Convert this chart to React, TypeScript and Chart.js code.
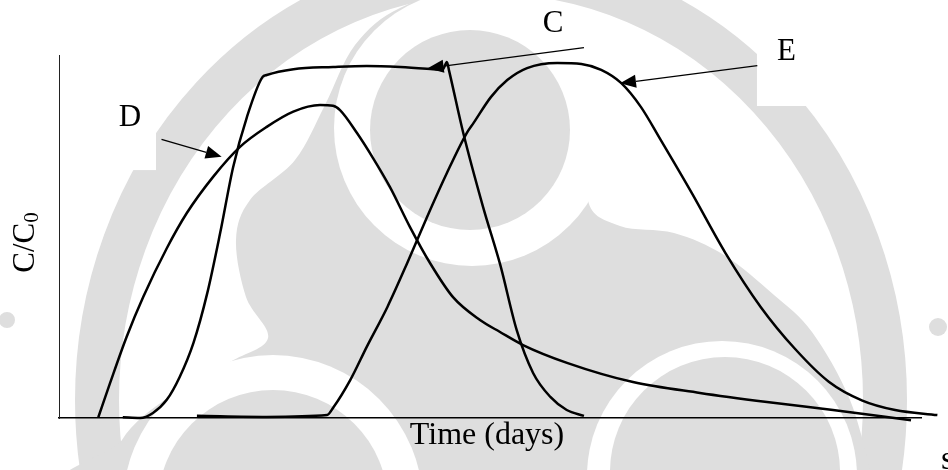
import React, { useEffect, useRef } from "react";
import { Chart, registerables } from "chart.js";

Chart.register(...registerables);

// Breakthrough curves: time in days against relative concentration C/C0
const timeC = [7.4, 9.4, 10.9, 12.5, 14.0, 15.6, 17.2, 18.7, 20.2, 21.8, 23.6, 24.1, 27.2, 31.8, 35.7, 39.6, 43.4, 44.5, 45.0, 45.25, 46.9, 49.2, 51.2, 53.1, 55.0, 57.0, 58.9, 60.9];
const ratioC = [0.002, 0.0, 0.014, 0.05, 0.113, 0.207, 0.344, 0.51, 0.691, 0.829, 0.939, 0.945, 0.961, 0.967, 0.97, 0.967, 0.961, 0.959, 0.981, 0.957, 0.785, 0.581, 0.421, 0.242, 0.124, 0.058, 0.022, 0.006];

const timeD = [4.56, 5.92, 7.85, 9.78, 12.49, 14.81, 17.9, 21.0, 24.1, 27.18, 30.28, 31.79, 32.6, 34.57, 36.43, 38.4, 40.72, 43.04, 45.71, 48.84, 51.16, 53.83, 58.93, 66.59, 74.36, 82.13, 89.79, 98.84];
const ratioD = [0.002, 0.096, 0.224, 0.334, 0.467, 0.564, 0.665, 0.747, 0.802, 0.844, 0.862, 0.86, 0.848, 0.785, 0.716, 0.636, 0.526, 0.427, 0.333, 0.27, 0.237, 0.201, 0.152, 0.099, 0.069, 0.044, 0.022, -0.006];

const timeE = [16.0, 24.1, 31.1, 31.8, 33.8, 35.7, 38.1, 40.4, 42.7, 45.0, 47.3, 48.1, 50.1, 52.0, 54.3, 57.8, 60.6, 62.9, 65.2, 67.5, 69.8, 73.4, 77.3, 81.4, 85.4, 89.3, 93.2, 97.0, 101.9];
const ratioE = [0.006, 0.003, 0.008, 0.028, 0.105, 0.196, 0.306, 0.427, 0.554, 0.675, 0.785, 0.813, 0.884, 0.931, 0.964, 0.978, 0.975, 0.959, 0.923, 0.857, 0.766, 0.62, 0.455, 0.306, 0.19, 0.1, 0.048, 0.022, 0.008];

const seriesNames = ["C", "D", "E"];
const xTitle = "Time (days)";
const yTitleMain = "C/C";
const yTitleSub = "0";
const cornerMark = "s";

const SERIF = "'Liberation Serif', 'Times New Roman', serif";
const INK = "#000000";
const WASH = "#dedede";

type Pt = [number, number];

// closed Catmull-Rom outline
function smoothClosedPath(ctx: CanvasRenderingContext2D, pts: Pt[]) {
  const n = pts.length;
  ctx.moveTo(pts[0][0], pts[0][1]);
  for (let i = 0; i < n; i++) {
    const p0 = pts[(i - 1 + n) % n];
    const p1 = pts[i];
    const p2 = pts[(i + 1) % n];
    const p3 = pts[(i + 2) % n];
    ctx.bezierCurveTo(
      p1[0] + (p2[0] - p0[0]) / 6,
      p1[1] + (p2[1] - p0[1]) / 6,
      p2[0] - (p3[0] - p1[0]) / 6,
      p2[1] - (p3[1] - p1[1]) / 6,
      p2[0],
      p2[1]
    );
  }
  ctx.closePath();
}

// faint emblem printed behind the figure
const swirlOutline: Pt[] = [
  [400, 8], [470, -8], [560, 40], [600, 120], [588, 200], [620, 226], [674, 233],
  [724, 255], [774, 295], [812, 332], [850, 400], [872, 480], [872, 500], [110, 500],
  [122, 440], [170, 396], [230, 362], [268, 338], [246, 297], [236, 240], [250, 200],
  [295, 160], [325, 105], [355, 45],
];

const backdropPlugin = {
  id: "backdrop",
  beforeDraw(chart: Chart) {
    const { ctx, width, height } = chart;
    ctx.save();
    ctx.fillStyle = "#ffffff";
    ctx.fillRect(0, 0, width, height);

    ctx.strokeStyle = WASH;
    ctx.lineWidth = 44;
    ctx.beginPath();
    ctx.ellipse(491, 400, 394, 428, 0, 0, Math.PI * 2);
    ctx.stroke();

    ctx.fillStyle = WASH;
    ctx.beginPath();
    smoothClosedPath(ctx, swirlOutline);
    ctx.fill();

    const disc = (x: number, y: number, r: number, color: string) => {
      ctx.fillStyle = color;
      ctx.beginPath();
      ctx.arc(x, y, r, 0, Math.PI * 2);
      ctx.fill();
    };
    disc(472, 128, 138, "#ffffff");
    disc(273, 505, 150, "#ffffff");
    disc(722, 476, 135, "#ffffff");
    disc(470, 130, 100, WASH);
    disc(273, 505, 115, WASH);
    disc(725, 472, 115, WASH);
    disc(7, 320, 8, WASH);
    disc(938, 327, 9, WASH);
    ctx.restore();
  },
};

const toPx = (chart: Chart, x: number, y: number): Pt => [
  chart.scales.x.getPixelForValue(x),
  chart.scales.y.getPixelForValue(y),
];

function arrow(ctx: CanvasRenderingContext2D, from: Pt, to: Pt) {
  const ang = Math.atan2(to[1] - from[1], to[0] - from[0]);
  const len = 16;
  const half = 6.5;
  const bx = to[0] - len * Math.cos(ang);
  const by = to[1] - len * Math.sin(ang);
  ctx.beginPath();
  ctx.moveTo(from[0], from[1]);
  ctx.lineTo(bx, by);
  ctx.stroke();
  ctx.beginPath();
  ctx.moveTo(to[0], to[1]);
  ctx.lineTo(bx - half * Math.sin(ang), by + half * Math.cos(ang));
  ctx.lineTo(bx + half * Math.sin(ang), by - half * Math.cos(ang));
  ctx.closePath();
  ctx.fill();
}

const labelBoxPlugin = {
  id: "labelBoxes",
  beforeDatasetsDraw(chart: Chart) {
    const { ctx } = chart;
    ctx.save();
    ctx.fillStyle = "#ffffff";
    const boxes: [number, number, number, number][] = [
      [4.5, 0.876, 11.25, 0.683],
      [80.97, 1.041, 87.7, 0.8595],
    ];
    boxes.forEach(([x0, y0, x1, y1]) => {
      const a = toPx(chart, x0, y0);
      const b = toPx(chart, x1, y1);
      ctx.fillRect(a[0], a[1], b[0] - a[0], b[1] - a[1]);
    });
    ctx.restore();
  },
};

const notesPlugin = {
  id: "notes",
  afterDraw(chart: Chart) {
    const { ctx, chartArea } = chart;
    ctx.save();
    ctx.fillStyle = INK;
    ctx.strokeStyle = INK;
    ctx.lineWidth = 1.3;

    // curve labels with leader arrows
    const notes: { name: string; at: [number, number]; from: [number, number]; to: [number, number] }[] = [
      { name: seriesNames[0], at: [57.31, 1.062], from: [60.9, 1.0201], to: [42.77, 0.9634] },
      { name: seriesNames[1], at: [8.24, 0.8044], from: [11.89, 0.7678], to: [18.87, 0.7198] },
      { name: seriesNames[2], at: [84.4, 0.9862], from: [81.01, 0.9705], to: [65.08, 0.922] },
    ];
    ctx.font = `31px ${SERIF}`;
    ctx.textAlign = "center";
    ctx.textBaseline = "alphabetic";
    notes.forEach((n) => {
      const p = toPx(chart, n.at[0], n.at[1]);
      ctx.fillText(n.name, p[0], p[1]);
      arrow(ctx, toPx(chart, n.from[0], n.from[1]), toPx(chart, n.to[0], n.to[1]));
    });

    // axis titles
    ctx.font = `32px ${SERIF}`;
    ctx.fillText(xTitle, (chartArea.left + chartArea.right) / 2 - 3, chartArea.bottom + 26);

    ctx.save();
    ctx.translate(chartArea.left - 25, (chartArea.top + chartArea.bottom) / 2 + 6);
    ctx.rotate(-Math.PI / 2);
    ctx.textAlign = "left";
    ctx.font = `31px ${SERIF}`;
    const wMain = ctx.measureText(yTitleMain).width;
    ctx.font = `21px ${SERIF}`;
    const wSub = ctx.measureText(yTitleSub).width;
    const start = -(wMain + wSub) / 2;
    ctx.font = `31px ${SERIF}`;
    ctx.fillText(yTitleMain, start, 0);
    ctx.font = `21px ${SERIF}`;
    ctx.fillText(yTitleSub, start + wMain, 4);
    ctx.restore();

    ctx.textAlign = "left";
    ctx.font = `34px ${SERIF}`;
    ctx.fillText(cornerMark, 941, 469);
    ctx.restore();
  },
};

function toPoints(xs: number[], ys: number[]) {
  return xs.map((x, i) => ({ x, y: ys[i] }));
}

export default function App() {
  const canvasRef = useRef<HTMLCanvasElement | null>(null);

  useEffect(() => {
    const canvas = canvasRef.current;
    if (!canvas) return;
    const lineStyle = {
      borderColor: INK,
      borderWidth: 2.5,
      pointRadius: 0,
      fill: false,
      cubicInterpolationMode: "monotone" as const,
      clip: false as const,
    };
    const chart = new Chart(canvas, {
      type: "line",
      data: {
        datasets: [
          { label: seriesNames[0], data: toPoints(timeC, ratioC), ...lineStyle },
          { label: seriesNames[1], data: toPoints(timeD, ratioD), ...lineStyle },
          { label: seriesNames[2], data: toPoints(timeE, ratioE), ...lineStyle },
        ],
      },
      options: {
        responsive: false,
        animation: false,
        devicePixelRatio: 1,
        layout: { padding: { left: 59, right: 27, top: 55, bottom: 52 } },
        plugins: { legend: { display: false }, tooltip: { enabled: false } },
        events: [],
        scales: {
          x: {
            type: "linear",
            min: 0,
            max: 100,
            grid: { display: false, drawTicks: false },
            ticks: { display: false },
            border: { display: true, color: "#000000", width: 1.6 },
            afterFit: (s: any) => {
              s.height = 0;
            },
          },
          y: {
            type: "linear",
            min: 0,
            max: 1,
            grid: { display: false, drawTicks: false },
            ticks: { display: false },
            border: { display: true, color: "#222222", width: 1 },
            afterFit: (s: any) => {
              s.width = 0;
            },
          },
        },
      },
      plugins: [backdropPlugin, labelBoxPlugin, notesPlugin],
    });
    return () => chart.destroy();
  }, []);

  return (
    <div style={{ position: "fixed", left: 0, top: 0, width: 948, height: 470, background: "#ffffff" }}>
      <canvas ref={canvasRef} width={948} height={470} style={{ display: "block", width: 948, height: 470 }} />
    </div>
  );
}
